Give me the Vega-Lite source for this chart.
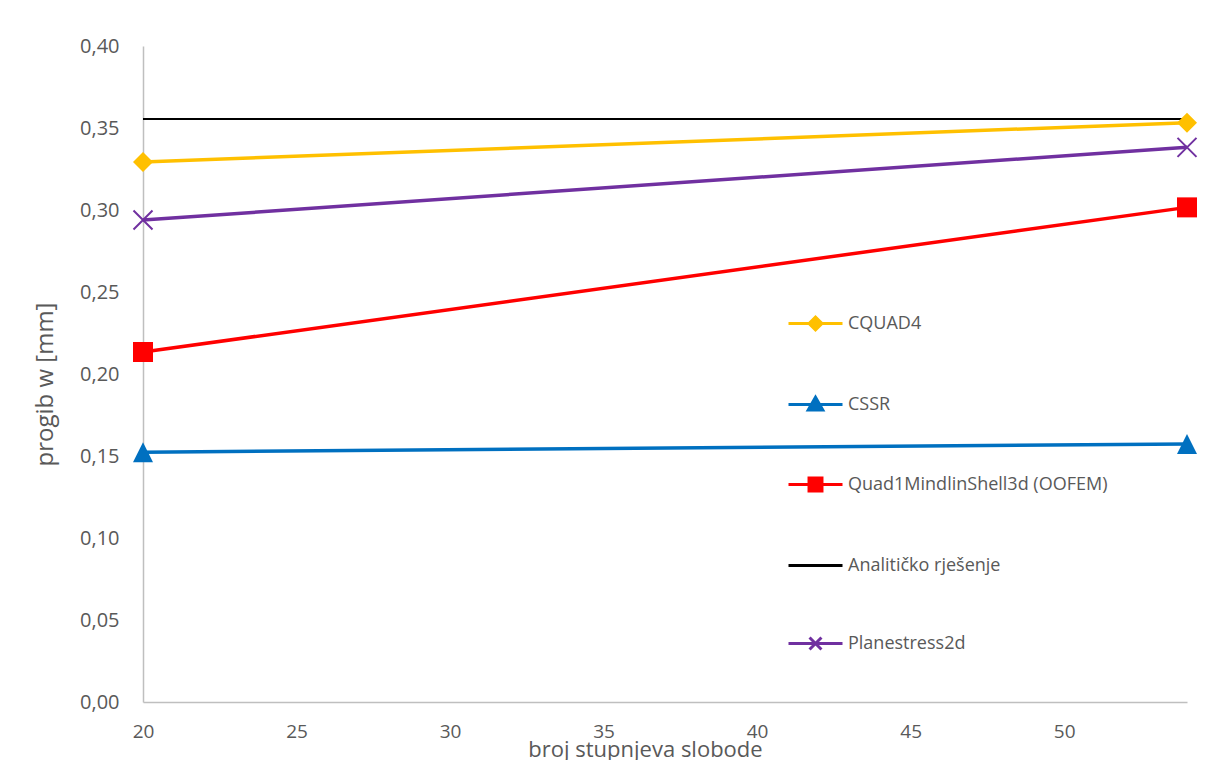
{
  "$schema": "https://vega.github.io/schema/vega-lite/v6.json",
  "width": 1044,
  "height": 656,
  "autosize": {"type": "none"},
  "padding": {"left": 143, "top": 46, "right": 21, "bottom": 58},
  "background": "white",
  "config": {"view": {"stroke": null}, "font": "Open Sans"},
  "data": {
    "values": [
      {"series": "CQUAD4", "dof": 20, "w": 0.3293},
      {"series": "CQUAD4", "dof": 54, "w": 0.3532},
      {"series": "CSSR", "dof": 20, "w": 0.1523},
      {"series": "CSSR", "dof": 54, "w": 0.1573},
      {"series": "Quad1MindlinShell3d (OOFEM)", "dof": 20, "w": 0.2134},
      {"series": "Quad1MindlinShell3d (OOFEM)", "dof": 54, "w": 0.3016},
      {"series": "Analitičko rješenje", "dof": 20, "w": 0.3555},
      {"series": "Analitičko rješenje", "dof": 54, "w": 0.3555},
      {"series": "Planestress2d", "dof": 20, "w": 0.2939},
      {"series": "Planestress2d", "dof": 54, "w": 0.3382}
    ]
  },
  "encoding": {
    "x": {
      "field": "dof",
      "type": "quantitative",
      "scale": {"domain": [20, 54], "nice": false, "zero": false},
      "axis": {
        "values": [20, 25, 30, 35, 40, 45, 50],
        "title": "broj stupnjeva slobode",
        "grid": false,
        "ticks": false,
        "domainColor": "#BFBFBF",
        "domainWidth": 1.5,
        "labelColor": "#595959",
        "labelFontSize": 19,
        "labelPadding": 20,
        "labelFlush": false,
        "titleFontSize": 22,
        "titleFontWeight": "normal",
        "titleColor": "#595959",
        "titleX": 502,
        "titleY": 47,
        "titleBaseline": "middle",
        "titleAlign": "center"
      }
    },
    "y": {
      "field": "w",
      "type": "quantitative",
      "scale": {"domain": [0, 0.4], "nice": false},
      "axis": {
        "values": [0, 0.05, 0.1, 0.15, 0.2, 0.25, 0.3, 0.35, 0.4],
        "labelExpr": "replace(format(datum.value, '.2f'), '.', ',')",
        "grid": false,
        "ticks": false,
        "domainColor": "#BFBFBF",
        "domainWidth": 1.5,
        "labelColor": "#595959",
        "labelFontSize": 20,
        "labelPadding": 24,
        "title": "progib w [mm]",
        "titleFontSize": 24,
        "titleFontWeight": "normal",
        "titleColor": "#595959",
        "titleX": -98,
        "titleY": 338,
        "titleBaseline": "middle",
        "titleAlign": "center"
      }
    }
  },
  "layer": [
    {
      "transform": [{"filter": "datum.series != 'Analitičko rješenje'"}],
      "mark": {"type": "line", "strokeWidth": 3.5},
      "encoding": {
        "color": {
          "field": "series",
          "type": "nominal",
          "scale": {
            "domain": ["CQUAD4", "CSSR", "Quad1MindlinShell3d (OOFEM)", "Analitičko rješenje", "Planestress2d"],
            "range": ["#FFC000", "#0070C0", "#FF0000", "#000000", "#7030A0"]
          },
          "legend": {
            "title": null,
            "orient": "none",
            "legendX": 644,
            "legendY": 249,
            "padding": 0,
            "symbolSize": 2916,
            "symbolStrokeWidth": 3,
            "rowPadding": 40,
            "labelFontSize": 18,
            "labelColor": "#595959",
            "labelOffset": 4,
            "labelLimit": 500,
            "encode": {
              "symbols": {
                "update": {
                  "shape": {"signal": "datum.value == 'CQUAD4' ? 'M-1,0H1M-0.24,0L0,-0.24L0.24,0L0,0.24Z' : datum.value == 'CSSR' ? 'M-1,0H1M0,-0.27L0.27,0.2L-0.27,0.2Z' : datum.value == 'Quad1MindlinShell3d (OOFEM)' ? 'M-1,0H1M-0.24,-0.24H0.24V0.24H-0.24Z' : datum.value == 'Planestress2d' ? 'M-1,0H1M-0.22,-0.22L0.22,0.22M-0.22,0.22L0.22,-0.22' : 'M-1,0H1'"},
                  "size": {"value": 2916},
                  "strokeWidth": {"value": 3},
                  "fill": {"scale": "color", "field": "value"},
                  "stroke": {"scale": "color", "field": "value"},
                  "fillOpacity": {"value": 1},
                  "opacity": {"value": 1}
                }
              }
            }
          }
        }
      }
    },
    {
      "transform": [{"filter": "datum.series == 'Analitičko rješenje'"}],
      "mark": {"type": "line", "strokeWidth": 2},
      "encoding": {"color": {"field": "series", "type": "nominal"}}
    },
    {
      "transform": [{"filter": "datum.series == 'CQUAD4'"}],
      "mark": {"type": "point", "shape": "diamond", "filled": true, "opacity": 1, "size": 400},
      "encoding": {"color": {"field": "series", "type": "nominal"}}
    },
    {
      "transform": [{"filter": "datum.series == 'CSSR'"}],
      "mark": {"type": "point", "shape": "M0,-1L1,1L-1,1Z", "filled": true, "opacity": 1, "size": 400},
      "encoding": {"color": {"field": "series", "type": "nominal"}}
    },
    {
      "transform": [{"filter": "datum.series == 'Quad1MindlinShell3d (OOFEM)'"}],
      "mark": {"type": "point", "shape": "square", "filled": true, "opacity": 1, "size": 400},
      "encoding": {"color": {"field": "series", "type": "nominal"}}
    },
    {
      "transform": [{"filter": "datum.series == 'Planestress2d'"}],
      "mark": {"type": "point", "shape": "M-1,-1L1,1M-1,1L1,-1", "filled": false, "opacity": 1, "size": 361, "strokeWidth": 2},
      "encoding": {"color": {"field": "series", "type": "nominal"}}
    }
  ]
}
